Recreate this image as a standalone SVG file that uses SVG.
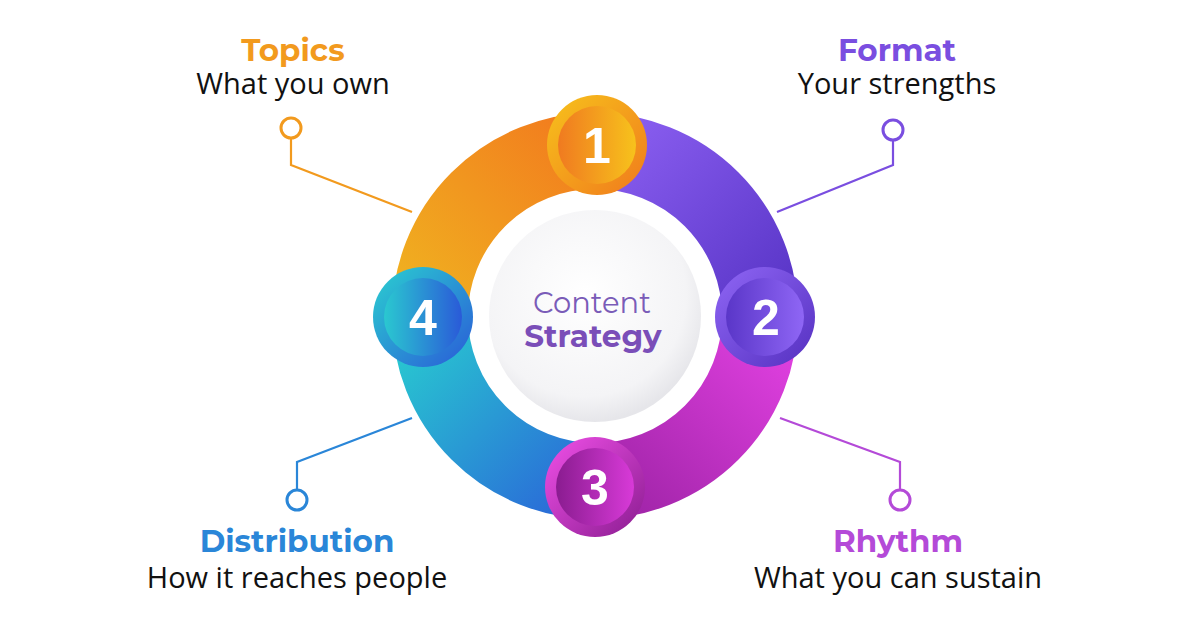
<svg xmlns="http://www.w3.org/2000/svg" width="1200" height="630" viewBox="0 0 1200 630">
<defs>
<linearGradient id="gO" x1="0" y1="1" x2="1" y2="0"><stop offset="0" stop-color="#f0b020"/><stop offset="1" stop-color="#f27d1e"/></linearGradient>
<linearGradient id="gP" x1="0" y1="0" x2="1" y2="1"><stop offset="0" stop-color="#8a5ef0"/><stop offset="1" stop-color="#5a36c8"/></linearGradient>
<linearGradient id="gM" x1="1" y1="0" x2="0" y2="1"><stop offset="0" stop-color="#e040e0"/><stop offset="1" stop-color="#a024a8"/></linearGradient>
<linearGradient id="gB" x1="0" y1="0" x2="1" y2="1"><stop offset="0" stop-color="#28c8d0"/><stop offset="1" stop-color="#2a6ad8"/></linearGradient>
<linearGradient id="b1" x1="0" y1="0" x2="1" y2="1"><stop offset="0" stop-color="#f7c21c"/><stop offset="1" stop-color="#f07a1c"/></linearGradient>
<linearGradient id="b1i" x1="0" y1="0" x2="1" y2="0"><stop offset="0" stop-color="#f07a20"/><stop offset="1" stop-color="#f7c21c"/></linearGradient>
<linearGradient id="b2" x1="0" y1="0" x2="1" y2="1"><stop offset="0" stop-color="#8f66f5"/><stop offset="1" stop-color="#5530c0"/></linearGradient>
<linearGradient id="b2i" x1="0" y1="0" x2="1" y2="0"><stop offset="0" stop-color="#5a36c8"/><stop offset="1" stop-color="#8f66f5"/></linearGradient>
<linearGradient id="b3" x1="0" y1="0" x2="1" y2="1"><stop offset="0" stop-color="#f050e8"/><stop offset="1" stop-color="#8a1c90"/></linearGradient>
<linearGradient id="b3i" x1="0" y1="0" x2="1" y2="0"><stop offset="0" stop-color="#8a1c90"/><stop offset="1" stop-color="#d83ad8"/></linearGradient>
<linearGradient id="b4" x1="0" y1="0" x2="1" y2="1"><stop offset="0" stop-color="#2ad0d0"/><stop offset="1" stop-color="#2a5ad8"/></linearGradient>
<linearGradient id="b4i" x1="0" y1="0" x2="1" y2="0"><stop offset="0" stop-color="#2ac8d0"/><stop offset="1" stop-color="#2a5ad8"/></linearGradient>
<radialGradient id="cw" cx="0.45" cy="0.4" r="0.6"><stop offset="0" stop-color="#ffffff"/><stop offset="0.8" stop-color="#f4f4f6"/><stop offset="1" stop-color="#e6e6ea"/></radialGradient>
</defs>
<style>
.arc{fill:none;stroke-width:76}
.ln{fill:none;stroke-width:2.2}
.dot{fill:#fff;stroke-width:3}
.t{font-family:Montserrat,"Liberation Sans",sans-serif;font-weight:bold;font-size:31px;text-anchor:middle}
.s{font-family:"Open Sans","Liberation Sans",sans-serif;font-size:29px;fill:#111;text-anchor:middle}
.n{font-family:"Liberation Sans",sans-serif;font-weight:bold;font-size:50px;fill:#fff;text-anchor:middle}
</style>
<rect width="1200" height="630" fill="#fff"/>
<g id="connectors">
<polyline class="ln" stroke="#f29a1e" points="291,138 291,165 412,212"/>
<circle class="dot" stroke="#f29a1e" cx="291" cy="128" r="10"/>
<polyline class="ln" stroke="#7a4ee0" points="893,140 893,165 777,212"/>
<circle class="dot" stroke="#7a4ee0" cx="893" cy="130" r="10"/>
<polyline class="ln" stroke="#2a86d8" points="297,490 297,462 412,418"/>
<circle class="dot" stroke="#2a86d8" cx="297" cy="500" r="10"/>
<polyline class="ln" stroke="#b44ad8" points="900,490 900,462 780,418"/>
<circle class="dot" stroke="#b44ad8" cx="900" cy="500" r="10"/>
</g>
<g id="ring">
<path class="arc" stroke="url(#gO)" d="M430,316 A165,165 0 0 1 595,151"/>
<path class="arc" stroke="url(#gP)" d="M595,151 A165,165 0 0 1 760,316"/>
<path class="arc" stroke="url(#gM)" d="M760,316 A165,165 0 0 1 595,481"/>
<path class="arc" stroke="url(#gB)" d="M595,481 A165,165 0 0 1 430,316"/>
</g>
<g id="center">
<circle cx="595" cy="316" r="106" fill="url(#cw)"/>
<text x="592" y="313" font-family="Montserrat,'Liberation Sans',sans-serif" font-size="29" fill="#7a5cb8" text-anchor="middle">Content</text>
<text x="593" y="347" font-family="Montserrat,'Liberation Sans',sans-serif" font-size="31" font-weight="bold" fill="#7a4eb8" text-anchor="middle">Strategy</text>
</g>
<g id="badge1"><circle cx="597" cy="145" r="50" fill="url(#b1)"/><circle cx="597" cy="145" r="39" fill="url(#b1i)"/><text class="n" x="597" y="163">1</text></g>
<g id="badge2"><circle cx="765" cy="317" r="50" fill="url(#b2)"/><circle cx="765" cy="317" r="39" fill="url(#b2i)"/><text class="n" x="766" y="335">2</text></g>
<g id="badge3"><circle cx="595" cy="487" r="50" fill="url(#b3)"/><circle cx="595" cy="487" r="39" fill="url(#b3i)"/><text class="n" x="595" y="505">3</text></g>
<g id="badge4"><circle cx="423" cy="317" r="50" fill="url(#b4)"/><circle cx="423" cy="317" r="39" fill="url(#b4i)"/><text class="n" x="423" y="335">4</text></g>
<g id="topics"><text class="t" x="293" y="61" fill="#f29a1e">Topics</text><text class="s" x="293" y="94">What you own</text></g>
<g id="format"><text class="t" x="897" y="61" fill="#7a4ee0">Format</text><text class="s" x="897" y="94">Your strengths</text></g>
<g id="distribution"><text class="t" x="297" y="552" fill="#2a86d8">Distribution</text><text class="s" x="297" y="588">How it reaches people</text></g>
<g id="rhythm"><text class="t" x="898" y="552" fill="#b44ad8">Rhythm</text><text class="s" x="898" y="588">What you can sustain</text></g>
</svg>
